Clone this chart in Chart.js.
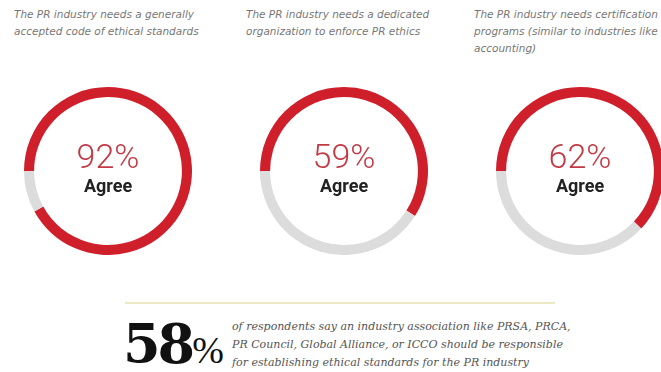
<!DOCTYPE html>
<html lang="en">
<head>
    <meta charset="UTF-8">
    <title>PR Ethics Survey</title>
    <style>
        body {
            margin: 0;
            padding: 0;
            background: #fff;
            width: 661px;
            height: 372px;
            overflow: hidden;
            position: relative;
            font-family: 'Lato', 'Noto Sans', sans-serif;
        }
        .question {
            position: absolute;
            top: 6px;
            font-family: 'DejaVu Sans', sans-serif;
            font-style: italic;
            font-size: 10.5px;
            line-height: 17px;
            color: #777;
            white-space: nowrap;
        }
        .ring {
            position: absolute;
            top: 87px;
            width: 168px;
            height: 168px;
        }
        .ring canvas {
            position: absolute;
            left: 0;
            top: 0;
        }
        .ring .label {
            position: absolute;
            left: 0;
            width: 168px;
            text-align: center;
        }
        .ring .pct {
            top: 49px;
            font-family: 'Roboto', sans-serif;
            font-weight: 300;
            font-size: 34px;
            color: #c23a45;
        }
        .ring .agree {
            top: 88px;
            font-family: 'Roboto', sans-serif;
            font-weight: bold;
            font-size: 18px;
            color: #222;
        }
        .rule {
            position: absolute;
            left: 125px;
            top: 302px;
            width: 430px;
            height: 2px;
            background: #ece8c4;
        }
        .big {
            position: absolute;
            left: 123px;
            top: 312px;
            font-family: 'DejaVu Serif', serif;
            font-weight: bold;
            font-size: 54px;
            color: #111;
            letter-spacing: -3px;
            white-space: nowrap;
        }
        .big span {
            font-family: 'Liberation Serif', serif;
            font-size: 38px;
            font-weight: normal;
            letter-spacing: 0;
        }
        .note {
            position: absolute;
            left: 232px;
            top: 318px;
            font-family: 'DejaVu Serif', serif;
            font-style: italic;
            font-size: 11px;
            line-height: 18px;
            color: #555;
            white-space: nowrap;
        }
    </style>
</head>
<body>
    <div id="board"></div>

    <div class="rule"></div>
    <div class="big">58<span>%</span></div>
    <div class="note">
        of respondents say an industry association like PRSA, PRCA,<br>
        PR Council, Global Alliance, or ICCO should be responsible<br>
        for establishing ethical standards for the PR industry
    </div>

    <script src="https://cdn.jsdelivr.net/npm/chart.js"></script>
    <script>
        // survey statements and share of respondents who agree
        const statements = [
            ['The PR industry needs a generally', 'accepted code of ethical standards'],
            ['The PR industry needs a dedicated', 'organization to enforce PR ethics'],
            ['The PR industry needs certification', 'programs (similar to industries like', 'accounting)']
        ];
        const agreeValues = [92, 59, 62];
        const answerLabel = 'Agree';

        const questionLeft = [14, 246, 474];
        const ringLeft = [24, 260, 496];

        const board = document.getElementById('board');

        statements.forEach(function (lines, i) {
            const q = document.createElement('div');
            q.className = 'question';
            q.style.left = questionLeft[i] + 'px';
            q.innerHTML = lines.join('<br>');
            board.appendChild(q);

            const wrap = document.createElement('div');
            wrap.className = 'ring';
            wrap.style.left = ringLeft[i] + 'px';
            const canvas = document.createElement('canvas');
            canvas.width = 168;
            canvas.height = 168;
            wrap.appendChild(canvas);

            const pct = document.createElement('div');
            pct.className = 'label pct';
            pct.textContent = agreeValues[i] + '%';
            wrap.appendChild(pct);

            const agree = document.createElement('div');
            agree.className = 'label agree';
            agree.textContent = answerLabel;
            wrap.appendChild(agree);

            board.appendChild(wrap);

            new Chart(canvas.getContext('2d'), {
                type: 'doughnut',
                data: {
                    labels: ['Agree', 'Other'],
                    datasets: [{
                        data: [agreeValues[i], 100 - agreeValues[i]],
                        backgroundColor: ['#cf1f2b', '#dcdcdc'],
                        borderWidth: 0
                    }]
                },
                options: {
                    responsive: false,
                    animation: false,
                    rotation: -90,
                    cutout: '88%',
                    layout: { padding: 0 },
                    plugins: {
                        legend: { display: false },
                        tooltip: { enabled: false }
                    }
                }
            });
        });
    </script>
</body>
</html>
